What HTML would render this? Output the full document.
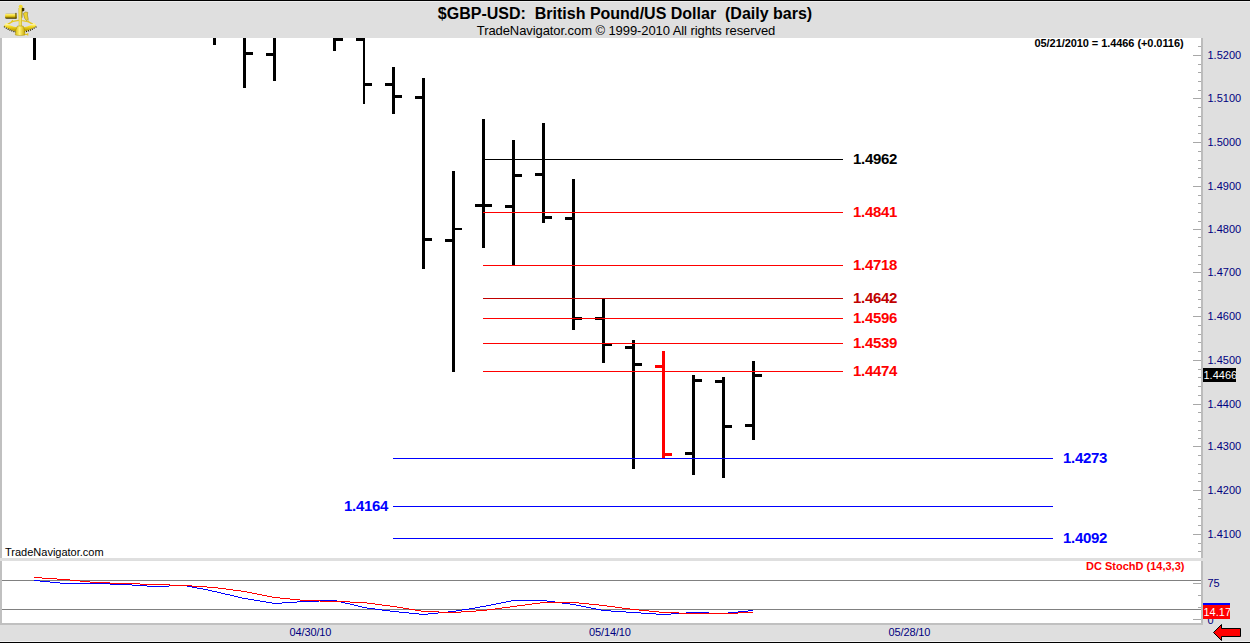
<!DOCTYPE html>
<html><head><meta charset="utf-8"><title>$GBP-USD Daily bars</title>
<style>
html,body{margin:0;padding:0;width:1250px;height:643px;overflow:hidden;background:#dfdfdf}
svg{display:block}
text{font-family:"Liberation Sans",Arial,sans-serif}
</style></head><body>
<svg width="1250" height="643" viewBox="0 0 1250 643" shape-rendering="crispEdges">
<rect x="0" y="0" width="1250" height="643" fill="#dfdfdf"/>
<rect x="0" y="0" width="1250" height="1" fill="#000"/>
<rect x="0" y="1" width="1250" height="1" fill="#eeeeee"/>
<rect x="0" y="641" width="1250" height="1" fill="#f2f2f2"/>
<rect x="0" y="642" width="1250" height="1" fill="#000"/>
<rect x="0" y="38" width="2" height="520" fill="#c0c0c0"/>
<rect x="2" y="38" width="1199" height="520" fill="#fff"/>
<rect x="1201" y="38" width="2" height="520" fill="#bcbcbc"/>
<rect x="0" y="561" width="2" height="62" fill="#c0c0c0"/>
<rect x="2" y="561" width="1199" height="62" fill="#fff"/>
<rect x="1201" y="561" width="2" height="64" fill="#bcbcbc"/>
<rect x="0" y="623" width="1203" height="2" fill="#c0c0c0"/>
<rect x="1198" y="46" width="3" height="1" fill="#a8a8a8"/>
<rect x="1193" y="55" width="8" height="1" fill="#a8a8a8"/>
<rect x="1198" y="64" width="3" height="1" fill="#a8a8a8"/>
<rect x="1198" y="72" width="3" height="1" fill="#a8a8a8"/>
<rect x="1198" y="81" width="3" height="1" fill="#a8a8a8"/>
<rect x="1198" y="90" width="3" height="1" fill="#a8a8a8"/>
<rect x="1193" y="98" width="8" height="1" fill="#a8a8a8"/>
<rect x="1198" y="107" width="3" height="1" fill="#a8a8a8"/>
<rect x="1198" y="116" width="3" height="1" fill="#a8a8a8"/>
<rect x="1198" y="125" width="3" height="1" fill="#a8a8a8"/>
<rect x="1198" y="133" width="3" height="1" fill="#a8a8a8"/>
<rect x="1193" y="142" width="8" height="1" fill="#a8a8a8"/>
<rect x="1198" y="151" width="3" height="1" fill="#a8a8a8"/>
<rect x="1198" y="160" width="3" height="1" fill="#a8a8a8"/>
<rect x="1198" y="168" width="3" height="1" fill="#a8a8a8"/>
<rect x="1198" y="177" width="3" height="1" fill="#a8a8a8"/>
<rect x="1193" y="186" width="8" height="1" fill="#a8a8a8"/>
<rect x="1198" y="195" width="3" height="1" fill="#a8a8a8"/>
<rect x="1198" y="203" width="3" height="1" fill="#a8a8a8"/>
<rect x="1198" y="212" width="3" height="1" fill="#a8a8a8"/>
<rect x="1198" y="221" width="3" height="1" fill="#a8a8a8"/>
<rect x="1193" y="229" width="8" height="1" fill="#a8a8a8"/>
<rect x="1198" y="237" width="3" height="1" fill="#a8a8a8"/>
<rect x="1198" y="246" width="3" height="1" fill="#a8a8a8"/>
<rect x="1198" y="255" width="3" height="1" fill="#a8a8a8"/>
<rect x="1198" y="264" width="3" height="1" fill="#a8a8a8"/>
<rect x="1193" y="272" width="8" height="1" fill="#a8a8a8"/>
<rect x="1198" y="281" width="3" height="1" fill="#a8a8a8"/>
<rect x="1198" y="290" width="3" height="1" fill="#a8a8a8"/>
<rect x="1198" y="299" width="3" height="1" fill="#a8a8a8"/>
<rect x="1198" y="307" width="3" height="1" fill="#a8a8a8"/>
<rect x="1193" y="316" width="8" height="1" fill="#a8a8a8"/>
<rect x="1198" y="325" width="3" height="1" fill="#a8a8a8"/>
<rect x="1198" y="334" width="3" height="1" fill="#a8a8a8"/>
<rect x="1198" y="342" width="3" height="1" fill="#a8a8a8"/>
<rect x="1198" y="351" width="3" height="1" fill="#a8a8a8"/>
<rect x="1193" y="360" width="8" height="1" fill="#a8a8a8"/>
<rect x="1198" y="369" width="3" height="1" fill="#a8a8a8"/>
<rect x="1198" y="377" width="3" height="1" fill="#a8a8a8"/>
<rect x="1198" y="386" width="3" height="1" fill="#a8a8a8"/>
<rect x="1198" y="395" width="3" height="1" fill="#a8a8a8"/>
<rect x="1193" y="404" width="8" height="1" fill="#a8a8a8"/>
<rect x="1198" y="412" width="3" height="1" fill="#a8a8a8"/>
<rect x="1198" y="421" width="3" height="1" fill="#a8a8a8"/>
<rect x="1198" y="430" width="3" height="1" fill="#a8a8a8"/>
<rect x="1198" y="438" width="3" height="1" fill="#a8a8a8"/>
<rect x="1193" y="446" width="8" height="1" fill="#a8a8a8"/>
<rect x="1198" y="455" width="3" height="1" fill="#a8a8a8"/>
<rect x="1198" y="464" width="3" height="1" fill="#a8a8a8"/>
<rect x="1198" y="473" width="3" height="1" fill="#a8a8a8"/>
<rect x="1198" y="481" width="3" height="1" fill="#a8a8a8"/>
<rect x="1193" y="490" width="8" height="1" fill="#a8a8a8"/>
<rect x="1198" y="499" width="3" height="1" fill="#a8a8a8"/>
<rect x="1198" y="508" width="3" height="1" fill="#a8a8a8"/>
<rect x="1198" y="516" width="3" height="1" fill="#a8a8a8"/>
<rect x="1198" y="525" width="3" height="1" fill="#a8a8a8"/>
<rect x="1193" y="534" width="8" height="1" fill="#a8a8a8"/>
<rect x="1198" y="543" width="3" height="1" fill="#a8a8a8"/>
<rect x="1198" y="551" width="3" height="1" fill="#a8a8a8"/>
<text x="1207.5" y="59" font-size="11" fill="#000080">1.5200</text>
<text x="1207.5" y="102" font-size="11" fill="#000080">1.5100</text>
<text x="1207.5" y="146" font-size="11" fill="#000080">1.5000</text>
<text x="1207.5" y="190" font-size="11" fill="#000080">1.4900</text>
<text x="1207.5" y="233" font-size="11" fill="#000080">1.4800</text>
<text x="1207.5" y="276" font-size="11" fill="#000080">1.4700</text>
<text x="1207.5" y="320" font-size="11" fill="#000080">1.4600</text>
<text x="1207.5" y="364" font-size="11" fill="#000080">1.4500</text>
<text x="1207.5" y="408" font-size="11" fill="#000080">1.4400</text>
<text x="1207.5" y="450" font-size="11" fill="#000080">1.4300</text>
<text x="1207.5" y="494" font-size="11" fill="#000080">1.4200</text>
<text x="1207.5" y="538" font-size="11" fill="#000080">1.4100</text>
<rect x="2" y="580" width="1199" height="1" fill="#808080"/>
<rect x="2" y="609" width="1199" height="1" fill="#808080"/>
<rect x="1193" y="583" width="8" height="1" fill="#a8a8a8"/>
<rect x="1198" y="595" width="3" height="1" fill="#a8a8a8"/>
<rect x="1198" y="607" width="3" height="1" fill="#a8a8a8"/>
<rect x="1193" y="619" width="8" height="1" fill="#a8a8a8"/>
<text x="1207.5" y="587" font-size="11" fill="#000080">75</text>
<text x="1207.5" y="623.5" font-size="11" fill="#000080">0</text>
<path d="M34 580h6v1h-6zM40 581h10v1h-10zM50 582h10v1h-10zM60 583h50v1h-50zM110 584h22v1h-22zM132 585h15v1h-15zM147 586h22v1h-22zM169 585h18v1h-18zM187 586h5v1h-5zM192 587h5v1h-5zM197 588h6v1h-6zM203 589h5v1h-5zM208 590h4v1h-4zM212 591h5v1h-5zM217 592h4v1h-4zM221 593h4v1h-4zM225 594h5v1h-5zM230 595h4v1h-4zM234 596h4v1h-4zM238 597h4v1h-4zM242 598h6v1h-6zM248 599h6v1h-6zM254 600h6v1h-6zM260 601h6v1h-6zM266 602h6v1h-6zM272 603h10v1h-10zM282 602h15v1h-15zM297 601h22v1h-22zM319 600h18v1h-18zM337 601h4v1h-4zM341 602h4v1h-4zM345 603h5v1h-5zM350 604h4v1h-4zM354 605h4v1h-4zM358 606h4v1h-4zM362 607h5v1h-5zM367 608h8v1h-8zM375 609h7v1h-7zM382 610h8v1h-8zM390 611h9v1h-9zM399 612h10v1h-10zM409 613h10v1h-10zM419 614h9v1h-9zM428 613h10v1h-10zM438 612h10v1h-10zM448 611h8v1h-8zM456 610h6v1h-6zM462 609h7v1h-7zM469 608h6v1h-6zM475 607h5v1h-5zM480 606h6v1h-6zM486 605h5v1h-5zM491 604h5v1h-5zM496 603h5v1h-5zM501 602h5v1h-5zM506 601h5v1h-5zM511 600h36v1h-36zM547 601h8v1h-8zM555 602h7v1h-7zM562 603h8v1h-8zM570 604h6v1h-6zM576 605h5v1h-5zM581 606h5v1h-5zM586 607h5v1h-5zM591 608h5v1h-5zM596 609h5v1h-5zM601 610h10v1h-10zM611 611h15v1h-15zM626 612h15v1h-15zM641 613h15v1h-15zM656 614h15v1h-15zM671 613h15v1h-15zM686 612h23v1h-23zM709 613h19v1h-19zM728 612h10v1h-10zM738 611h10v1h-10zM748 610h5v1h-5z" fill="#0000ff"/>
<path d="M34 577h8v1h-8zM42 578h15v1h-15zM57 579h13v1h-13zM70 580h10v1h-10zM80 581h10v1h-10zM90 582h20v1h-20zM110 583h30v1h-30zM140 584h30v1h-30zM170 585h22v1h-22zM192 586h15v1h-15zM207 587h11v1h-11zM218 588h8v1h-8zM226 589h7v1h-7zM233 590h8v1h-8zM241 591h6v1h-6zM247 592h5v1h-5zM252 593h5v1h-5zM257 594h5v1h-5zM262 595h5v1h-5zM267 596h5v1h-5zM272 597h8v1h-8zM280 598h10v1h-10zM290 599h10v1h-10zM300 600h20v1h-20zM320 601h30v1h-30zM350 602h17v1h-17zM367 603h8v1h-8zM375 604h7v1h-7zM382 605h8v1h-8zM390 606h7v1h-7zM397 607h6v1h-6zM403 608h6v1h-6zM409 609h6v1h-6zM415 610h6v1h-6zM421 611h18v1h-18zM439 612h22v1h-22zM461 611h15v1h-15zM476 610h11v1h-11zM487 609h8v1h-8zM495 608h7v1h-7zM502 607h8v1h-8zM510 606h7v1h-7zM517 605h8v1h-8zM525 604h7v1h-7zM532 603h8v1h-8zM540 602h39v1h-39zM579 603h10v1h-10zM589 604h10v1h-10zM599 605h8v1h-8zM607 606h8v1h-8zM615 607h7v1h-7zM622 608h8v1h-8zM630 609h9v1h-9zM639 610h10v1h-10zM649 611h10v1h-10zM659 612h20v1h-20zM679 613h59v1h-59zM738 612h15v1h-15z" fill="#ff0000"/>
<path d="M33 38h3v22h-3zM213 38h3v7h-3zM243 38h3v50h-3zM246 52h7v3h-7zM273 38h3v43h-3zM266 53h7v3h-7zM333 38h3v13h-3zM336 38h7v3h-7zM363 38h2v66h-2zM356 38h7v3h-7zM365 83h7v3h-7zM392 67h3v47h-3zM385 83h7v3h-7zM395 95h7v3h-7zM422 78h3v191h-3zM415 96h7v3h-7zM425 238h7v3h-7zM452 171h3v201h-3zM445 239h7v3h-7zM482 119h3v129h-3zM475 204h7v3h-7zM485 204h7v3h-7zM512 140h3v126h-3zM505 205h7v3h-7zM515 174h7v3h-7zM542 123h3v100h-3zM535 173h7v3h-7zM545 216h7v3h-7zM572 179h3v151h-3zM565 217h7v3h-7zM575 317h7v3h-7zM602 299h3v64h-3zM595 317h7v3h-7zM605 343h7v3h-7zM632 340h3v129h-3zM625 346h7v3h-7zM635 363h7v3h-7zM692 375h3v100h-3zM685 452h7v3h-7zM695 379h7v3h-7zM722 377h3v101h-3zM715 380h7v3h-7zM725 425h7v3h-7zM752 361h3v79h-3zM745 424h7v3h-7zM755 374h7v3h-7zM455 228h7v2h-7z" fill="#000"/>
<path d="M662 351h3v107h-3zM655 365h7v3h-7zM665 453h7v3h-7z" fill="#ff0000"/>
<rect x="483" y="159" width="360" height="1" fill="#000000"/>
<rect x="483" y="212" width="360" height="1" fill="#ff0000"/>
<rect x="483" y="265" width="360" height="1" fill="#ff0000"/>
<rect x="483" y="298" width="360" height="1" fill="#c00000"/>
<rect x="483" y="318" width="360" height="1" fill="#ff0000"/>
<rect x="483" y="343" width="360" height="1" fill="#ff0000"/>
<rect x="483" y="371" width="360" height="1" fill="#ff0000"/>
<rect x="393" y="458" width="660" height="1" fill="#0000ff"/>
<rect x="393" y="506" width="660" height="1" fill="#0000ff"/>
<rect x="393" y="538" width="660" height="1" fill="#0000ff"/>
<text x="853" y="164" font-size="15" font-weight="bold" fill="#000" letter-spacing="-0.3">1.4962</text>
<text x="853" y="217" font-size="15" font-weight="bold" fill="#ff0000" letter-spacing="-0.3">1.4841</text>
<text x="853" y="270" font-size="15" font-weight="bold" fill="#ff0000" letter-spacing="-0.3">1.4718</text>
<text x="853" y="303" font-size="15" font-weight="bold" fill="#c00000" letter-spacing="-0.3">1.4642</text>
<text x="853" y="323" font-size="15" font-weight="bold" fill="#ff0000" letter-spacing="-0.3">1.4596</text>
<text x="853" y="348" font-size="15" font-weight="bold" fill="#ff0000" letter-spacing="-0.3">1.4539</text>
<text x="853" y="376" font-size="15" font-weight="bold" fill="#ff0000" letter-spacing="-0.3">1.4474</text>
<text x="1063" y="463" font-size="15" font-weight="bold" fill="#0000ff" letter-spacing="-0.3">1.4273</text>
<text x="344" y="511" font-size="15" font-weight="bold" fill="#0000ff" letter-spacing="-0.3">1.4164</text>
<text x="1063" y="543" font-size="15" font-weight="bold" fill="#0000ff" letter-spacing="-0.3">1.4092</text>
<text x="625" y="19" font-size="16" font-weight="bold" fill="#000" text-anchor="middle">$GBP-USD:&#160; British Pound/US Dollar&#160; (Daily bars)</text>
<text x="626" y="35" font-size="13" fill="#000" text-anchor="middle" letter-spacing="-0.08">TradeNavigator.com &#169; 1999-2010 All rights reserved</text>
<text x="1034.5" y="47" font-size="11" font-weight="bold" fill="#000" letter-spacing="-0.07">05/21/2010 = 1.4466 (+0.0116)</text>
<text x="5" y="556" font-size="11" fill="#000">TradeNavigator.com</text>
<text x="1086" y="570" font-size="11" font-weight="bold" fill="#ff0000">DC StochD (14,3,3)</text>
<text x="289.5" y="636" font-size="11" fill="#000080" letter-spacing="-0.12">04/30/10</text>
<text x="589" y="636" font-size="11" fill="#000080" letter-spacing="-0.12">05/14/10</text>
<text x="888.5" y="636" font-size="11" fill="#000080" letter-spacing="-0.12">05/28/10</text>
<svg x="1203" y="368" width="33" height="14" overflow="hidden">
<rect x="0" y="0" width="33" height="14" fill="#000"/>
<text x="0.5" y="11" font-size="11" fill="#fff">1.4466</text>
</svg>
<svg x="1203" y="603" width="27" height="16" overflow="hidden">
<rect x="0" y="0" width="27" height="14" fill="#0000ff"/>
<rect x="0" y="2" width="27" height="14" fill="#ff0000"/>
<text x="0.5" y="13" font-size="11" fill="#fff">14.17</text>
</svg>
<path d="M1213.5 632.5 L1221.5 624.5 L1221.5 628.5 L1240.5 628.5 L1240.5 636.5 L1221.5 636.5 L1221.5 640.5 Z" fill="#ff0000" stroke="#000" stroke-width="1" shape-rendering="auto"/>

<g shape-rendering="auto">
 <defs>
  <linearGradient id="gold" x1="0" y1="0" x2="0" y2="1">
   <stop offset="0" stop-color="#fff59a"/>
   <stop offset="0.4" stop-color="#f4da2a"/>
   <stop offset="1" stop-color="#c8a800"/>
  </linearGradient>
  <linearGradient id="goldh" x1="0" y1="0" x2="1" y2="0">
   <stop offset="0" stop-color="#d8bc10"/>
   <stop offset="0.45" stop-color="#fff27a"/>
   <stop offset="1" stop-color="#c8a800"/>
  </linearGradient>
  <linearGradient id="tele" x1="0" y1="0" x2="0" y2="1">
   <stop offset="0" stop-color="#9a9ae8"/>
   <stop offset="0.18" stop-color="#fff27a"/>
   <stop offset="0.55" stop-color="#ecd020"/>
   <stop offset="0.8" stop-color="#8a7200"/>
   <stop offset="1" stop-color="#2a2200"/>
  </linearGradient>
 </defs>
 <path d="M7.5 24.2 Q13 20.6 18.8 20.4 M33 24 Q28 20.8 22.2 20.6 M12.8 20 L9.5 24 M28 20.5 L30.5 23.5" fill="none" stroke="#e6c81e" stroke-width="1.1"/>
 <path d="M4.8 25.4 Q20 36.2 35.7 25.4" fill="none" stroke="#2a2200" stroke-width="4.2" stroke-dasharray="1.1 0.9"/>
 <path d="M5 24.4 Q20 35 35.5 24.4" fill="none" stroke="url(#gold)" stroke-width="4"/>
 <rect x="5.1" y="12.9" width="11.7" height="5.9" rx="1.6" fill="url(#tele)"/>
 <rect x="15" y="12.9" width="1.8" height="5.9" fill="#6a5800" opacity="0.7"/>
 <path d="M23.3 13.5 L25.5 12 L27.8 12.4 L27.4 15 L28.3 19.5 L26.5 20.5 L24.8 18.5 Z" fill="#ecd232" stroke="#8a7200" stroke-width="0.5"/>
 <path d="M21.8 7.4 L24.4 8.2 L24.2 11 L22 11.5 Z" fill="#3a3000"/>
 <ellipse cx="20.7" cy="6.5" rx="2" ry="1.8" fill="#f4da2a"/>
 <path d="M18.5 8 L22 8 L21.8 26.8 L18.8 26.8 Z" fill="url(#goldh)"/>
 <path d="M21.9 10.4 L22.4 10.4 L22.3 17.7 L21.8 17.7 Z" fill="#5a4a00"/>
 <path d="M17.4 26 L23.2 26 Q25.3 30.2 25 35 Q20.2 36.2 15.3 35 Q15 30.2 17.4 26 Z" fill="url(#goldh)" stroke="#9a8200" stroke-width="0.4"/>
 <path d="M24.8 34 L27.4 33.8 L27.4 32.9 L28.3 32.9 L28.3 35.7 L27.4 35.7 L27.4 35 L24.8 35 Z" fill="#e2c41a"/>
</g>
</svg>
</body></html>
